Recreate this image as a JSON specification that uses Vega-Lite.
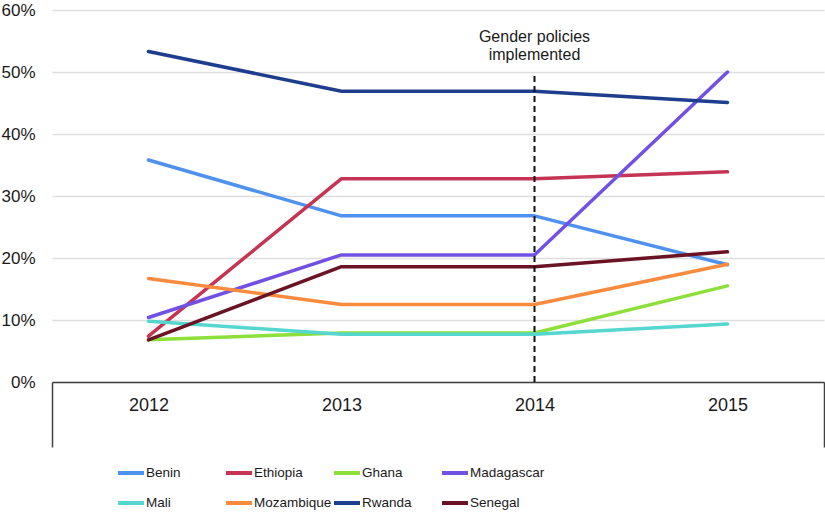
{
  "$schema": "https://vega.github.io/schema/vega-lite/v6.json",
  "width": 772,
  "height": 372,
  "autosize": {"type": "none"},
  "padding": {"left": 52, "top": 10, "right": 1, "bottom": 132},
  "config": {
    "view": {"stroke": null},
    "font": "Liberation Sans",
    "text": {"font": "Liberation Sans"}
  },
  "datasets": {
    "series": [
      {"country": "Benin", "year": "2012", "value": 0.358},
      {"country": "Benin", "year": "2013", "value": 0.268},
      {"country": "Benin", "year": "2014", "value": 0.268},
      {"country": "Benin", "year": "2015", "value": 0.189},
      {"country": "Ethiopia", "year": "2012", "value": 0.074},
      {"country": "Ethiopia", "year": "2013", "value": 0.328},
      {"country": "Ethiopia", "year": "2014", "value": 0.328},
      {"country": "Ethiopia", "year": "2015", "value": 0.339},
      {"country": "Ghana", "year": "2012", "value": 0.068},
      {"country": "Ghana", "year": "2013", "value": 0.079},
      {"country": "Ghana", "year": "2014", "value": 0.079},
      {"country": "Ghana", "year": "2015", "value": 0.155},
      {"country": "Madagascar", "year": "2012", "value": 0.104},
      {"country": "Madagascar", "year": "2013", "value": 0.205},
      {"country": "Madagascar", "year": "2014", "value": 0.205},
      {"country": "Madagascar", "year": "2015", "value": 0.50},
      {"country": "Mali", "year": "2012", "value": 0.098},
      {"country": "Mali", "year": "2013", "value": 0.077},
      {"country": "Mali", "year": "2014", "value": 0.077},
      {"country": "Mali", "year": "2015", "value": 0.0935},
      {"country": "Mozambique", "year": "2012", "value": 0.167},
      {"country": "Mozambique", "year": "2013", "value": 0.125},
      {"country": "Mozambique", "year": "2014", "value": 0.125},
      {"country": "Mozambique", "year": "2015", "value": 0.19},
      {"country": "Rwanda", "year": "2012", "value": 0.533},
      {"country": "Rwanda", "year": "2013", "value": 0.469},
      {"country": "Rwanda", "year": "2014", "value": 0.469},
      {"country": "Rwanda", "year": "2015", "value": 0.451},
      {"country": "Senegal", "year": "2012", "value": 0.068},
      {"country": "Senegal", "year": "2013", "value": 0.186},
      {"country": "Senegal", "year": "2014", "value": 0.186},
      {"country": "Senegal", "year": "2015", "value": 0.21}
    ],
    "note": [
      {"year": "2014", "lo": 0, "hi": 0.5, "label": ["Gender policies", "implemented"]}
    ]
  },
  "encoding": {
    "x": {
      "field": "year",
      "type": "ordinal",
      "scale": {"type": "band", "domain": ["2012", "2013", "2014", "2015"], "paddingInner": 0, "paddingOuter": 0},
      "axis": {
        "title": null,
        "labelAngle": 0,
        "labelFontSize": 18,
        "labelColor": "#1a1a1a",
        "labelPadding": -51,
        "domainColor": "#404040",
        "domainWidth": 1.5,
        "tickBand": "extent",
        "tickSize": 65,
        "tickColor": "#404040",
        "tickWidth": 1.5,
        "tickOpacity": {"condition": {"test": "datum.index == 1 || datum.index == null || datum.extra", "value": 1}, "value": 0},
        "grid": false
      }
    }
  },
  "layer": [
    {
      "data": {"name": "series"},
      "mark": {"type": "line", "strokeWidth": 3.5, "strokeCap": "round", "strokeJoin": "round"},
      "encoding": {
        "y": {
          "field": "value",
          "type": "quantitative",
          "scale": {"domain": [0, 0.6], "nice": false, "zero": true},
          "axis": {
            "title": null,
            "values": [0, 0.1, 0.2, 0.3, 0.4, 0.5, 0.6],
            "format": ".0%",
            "domain": false,
            "ticks": false,
            "labelFontSize": 17,
            "labelColor": "#1a1a1a",
            "labelPadding": 17,
            "gridColor": "#dedede",
            "gridWidth": 1.5
          }
        },
        "color": {
          "field": "country",
          "type": "nominal",
          "scale": {
            "domain": ["Benin", "Ethiopia", "Ghana", "Madagascar", "Mali", "Mozambique", "Rwanda", "Senegal"],
            "range": ["#4F91EE", "#C53452", "#8DDF3A", "#7150E4", "#55D6CE", "#F98B3E", "#1E3D8C", "#6A1324"]
          },
          "legend": {
            "title": null,
            "orient": "none",
            "legendX": 64,
            "legendY": 448,
            "columns": 4,
            "direction": "horizontal",
            "gridAlign": "all",
            "symbolType": "stroke",
            "symbolSize": 676,
            "symbolStrokeWidth": 4,
            "labelFont": "Liberation Sans",
            "labelFontSize": 13.5,
            "labelColor": "#1a1a1a",
            "labelOffset": 0,
            "columnPadding": -8,
            "rowPadding": 7,
            "padding": 0
          }
        }
      }
    },
    {
      "data": {"name": "note"},
      "mark": {"type": "rule", "color": "#111111", "strokeWidth": 2, "strokeDash": [6, 4]},
      "encoding": {
        "y": {"field": "lo", "type": "quantitative"},
        "y2": {"field": "hi"}
      }
    },
    {
      "data": {"name": "note"},
      "mark": {"type": "text", "fontSize": 16, "color": "#1a1a1a", "baseline": "bottom", "lineHeight": 18, "dy": -27},
      "encoding": {
        "y": {"field": "hi", "type": "quantitative"},
        "text": {"field": "label"}
      }
    }
  ]
}
